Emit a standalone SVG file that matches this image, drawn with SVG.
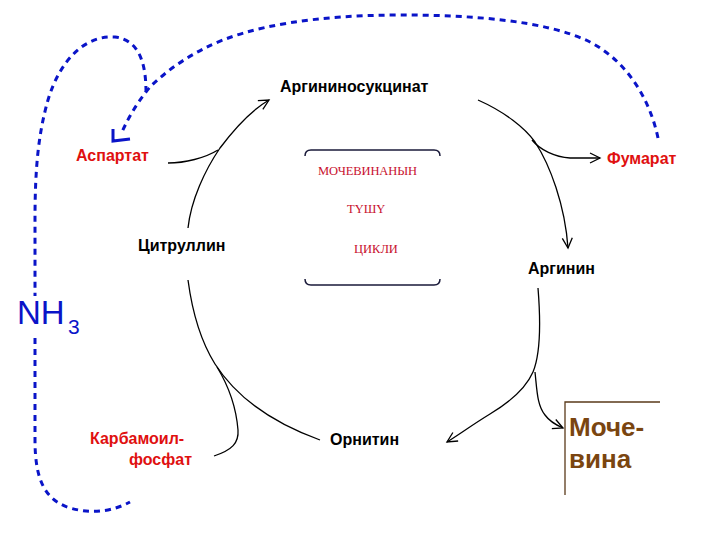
<svg xmlns="http://www.w3.org/2000/svg" width="720" height="540" viewBox="0 0 720 540">
<defs>
<marker id="ah" markerUnits="userSpaceOnUse" markerWidth="14" markerHeight="12" viewBox="-11 -6 13 12" refX="0" refY="0" orient="auto">
<path d="M-10,-5 L0,0 L-10,5" fill="none" stroke="#000" stroke-width="1.3"/>
</marker>
</defs>
<style>
.lbl{font-family:"Liberation Sans",Arial,sans-serif;font-weight:bold;font-size:16px}
.blk{fill:#000}
.red{fill:#e01010}
.ctr{font-family:"Liberation Serif","Times New Roman",serif;font-size:12.5px;fill:#c8102e}
.arc{fill:none;stroke:#000;stroke-width:1.3}
.dash{fill:none;stroke:#0a14c8;stroke-width:3;stroke-dasharray:6 5}
</style>
<rect width="720" height="540" fill="#fff"/>

<g id="connectors">
<path class="dash" d="M658,138 C650,100 628,62 590,42 C545,20 470,15 400,15 C320,15 250,25 205,48 C185,58 165,72 150,87 C140,99 130,114 122,132"/>
<path d="M113,129 L113,141 L130,139" fill="none" stroke="#0a14c8" stroke-width="3"/>
<path class="dash" d="M146,92 C146,65 140,40 115,37 C85,35 60,60 48,100 C38,135 35,170 35,220 L35,296"/>
<path class="dash" d="M35,338 L35,440 C35,480 45,500 70,508 C95,515 115,510 130,502"/>

<path class="arc" d="M188,228 C191,200 205,170 220,148 C235,128 250,111 269,100" marker-end="url(#ah)"/>
<path class="arc" d="M168,163 C185,163 205,158 218,150"/>
<path class="arc" d="M478,100 C505,112 525,128 535,142 C550,165 565,205 568,248" marker-end="url(#ah)"/>
<path class="arc" d="M532,140 C540,150 555,157 570,158 L600,158" marker-end="url(#ah)"/>
<path class="arc" d="M538,288 C541,325 540,355 533,372 C526,388 510,402 490,414 C472,425 460,434 447,442" marker-end="url(#ah)"/>
<path class="arc" d="M535,372 C537,390 537,405 545,415 C550,422 556,425 563,428" marker-end="url(#ah)"/>
<path class="arc" d="M188,280 C192,310 200,340 215,364 C235,395 270,422 320,440"/>
<path class="arc" d="M217,367 C228,385 236,405 238,430 C239,443 232,450 214,456"/>
</g>

<g id="argininosuccinate"><text class="lbl blk" x="280" y="92">Аргининосукцинат</text></g>
<g id="aspartate"><text class="lbl red" x="76" y="161">Аспартат</text></g>
<g id="fumarate"><text class="lbl red" x="607" y="164">Фумарат</text></g>
<g id="citrulline"><text class="lbl blk" x="138" y="251">Цитруллин</text></g>
<g id="arginine"><text class="lbl blk" x="528" y="274">Аргинин</text></g>
<g id="ornithine"><text class="lbl blk" x="330" y="445">Орнитин</text></g>
<g id="carbamoylphosphate">
<text class="lbl red" x="90" y="444">Карбамоил-</text>
<text class="lbl red" x="129" y="465">фосфат</text>
</g>
<g id="nh3">
<text x="17" y="324" font-family="Liberation Sans,Arial,sans-serif" font-size="33" fill="#0a14c8">NH</text>
<text x="68" y="334" font-family="Liberation Sans,Arial,sans-serif" font-size="21" fill="#0a14c8">3</text>
</g>
<g id="urea">
<path d="M565,495 L565,402 L660,402" fill="none" stroke="#5a3a1a" stroke-width="1.3"/>
<text x="569" y="436" font-family="Liberation Sans,Arial,sans-serif" font-weight="bold" font-size="26" fill="#7a4510">Моче-</text>
<text x="569" y="468" font-family="Liberation Sans,Arial,sans-serif" font-weight="bold" font-size="26" fill="#7a4510">вина</text>
</g>
<g id="center">
<path d="M305,156 Q305,150 311,150 L434,150 Q440,150 440,156" fill="none" stroke="#1a1a3a" stroke-width="1.5"/>
<path d="M305,279 Q305,285 311,285 L434,285 Q440,285 440,279" fill="none" stroke="#1a1a3a" stroke-width="1.5"/>
<text class="ctr" x="318" y="175" textLength="99">МОЧЕВИНАНЫН</text>
<text class="ctr" x="347" y="213">ТҮШҮ</text>
<text class="ctr" x="354" y="253">ЦИКЛИ</text>
</g>
</svg>
